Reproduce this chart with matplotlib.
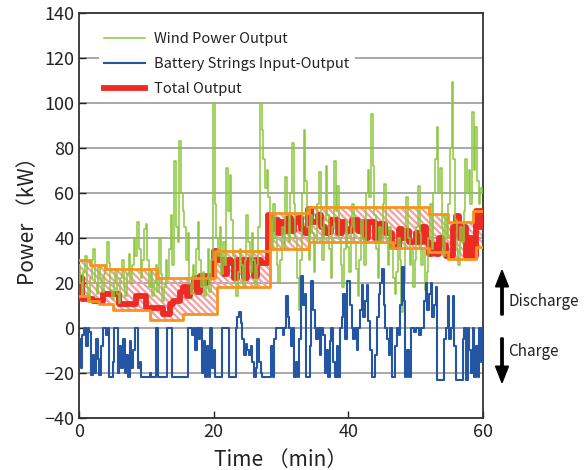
import numpy as np
import matplotlib
matplotlib.use('Agg')
import matplotlib.pyplot as plt

plt.rcParams['font.family'] = ['Noto Sans CJK JP', 'DejaVu Sans']
plt.rcParams['hatch.linewidth'] = 1.6

# wind power output, one value every 0.25 min (kW)
wind = [
    28, 20, 14, 25, 32, 18, 12, 22, 30, 35, 20, 15, 27, 22, 16, 24, 26, 38, 29, 17,
    13, 20, 26, 15, 11, 22, 30, 18, 14, 24, 33, 20, 28, 40, 32, 47, 35, 22, 30, 44,
    46, 30, 18, 25, 14, 20, 28, 16, 40, 24, 12, 18, 30, 22, 35, 50, 28, 74, 45, 38,
    83, 60, 52, 45, 30, 42, 20, 15, 28, 22, 35, 47, 30, 18, 25, 14, 22, 35, 16, 30,
    103, 55, 40, 32, 45, 24, 38, 28, 71, 52, 68, 48, 32, 20, 14, 25, 35, 28, 18, 30,
    50, 38, 25, 42, 30, 18, 28, 45, 103, 88, 75, 62, 70, 58, 48, 35, 55, 40, 28, 20,
    30, 45, 35, 67, 50, 38, 60, 82, 55, 40, 22, 8, 30, 60, 88, 65, 45, 30, 50, 42,
    25, 38, 55, 69, 45, 30, 48, 72, 50, 35, 22, 45, 74, 52, 63, 40, 28, 18, 35, 48,
    36, 25, 45, 55, 38, 26, 14, 30, 48, 40, 28, 60, 70, 58, 95, 72, 50, 35, 22, 45,
    38, 55, 64, 40, 28, 45, 35, 22, 15, 25, 40, 30, 7, 20, 45, 58, 40, 28, 35, 18,
    30, 45, 63, 42, 28, 35, 17, 25, 40, 55, 35, 60, 75, 89, 60, 71, 45, 32, 50, 40,
    55, 80, 109, 75, 48, 35, 28, 45, 38, 52, 75, 60, 70, 55, 96, 70, 89, 65, 55, 62,
    60,
]

# battery strings input-output, same sampling (kW, + discharge / - charge)
battery = [
    -5, -18, -3, 0, -8, 0, -2, -21, -12, -20, -5, -14, -21, -8, 0, 0, -3, 0, -22, -22,
    -15, 0, 0, -20, -8, -18, -5, -20, -12, -22, -6, -18, -10, 0, 0, -18, -15, -22, -22, -22,
    -22, -22, -20, -22, -22, -22, 0, -22, -22, -22, -22, -22, 0, 0, 0, -22, -22, -22, -22, -22,
    -22, -22, -22, -22, -22, 0, 0, -3, 0, -10, 0, -5, 0, -20, -6, -22, -8, -22, 0, -18,
    -10, -22, -22, -22, -22, 0, 0, 0, 0, -22, -22, -22, -22, 0, 5, 7, 2, -5, -12, -7,
    -10, -12, -8, -15, -22, -18, -5, -15, -20, -22, -22, -22, -22, -22, -8, -22, -5, 0, 0, 0,
    0, -3, 0, 14, 5, 0, -8, 0, -22, -15, -22, -5, 23, 10, 15, -22, -22, -8, 21, 8,
    0, -5, 0, -12, 0, -3, -20, -10, -22, -6, 0, -15, -22, -8, -22, 0, 5, 15, -5, 21,
    21, 10, 0, -5, 0, -10, 0, 8, 19, 5, 12, 19, 3, -10, -22, -22, -12, 5, 15, 20,
    26, 10, 0, -5, -12, 0, -22, -22, -8, 0, -3, 10, 27, 12, -22, -10, -22, 0, 0, -2,
    0, 0, -3, 0, 0, 12, 20, 8, 15, 20, 5, 10, 18, -23, -23, -23, -23, -5, 0, 14,
    -5, 0, 14, -8, -23, -23, -23, -23, -5, 0, -23, 0, -10, -20, 0, -22, -8, -22, 0, -15,
    0,
]

# total output, one value every 0.5 min (kW)
total = [
    22, 13, 13, 13, 12, 12, 12, 15, 15, 15, 15, 15, 10.5, 10.5, 10.5, 10.5, 10.5, 14, 14, 14,
    9, 9, 9, 9, 9, 6, 6, 10.5, 12, 12, 16, 18, 14, 18, 22, 16, 23, 20, 23, 23,
    34, 30, 30, 24, 30, 29, 22, 30, 30, 22, 30, 30, 23, 30, 29, 29,
    50, 44, 48, 42, 47, 43, 49, 43, 47, 49, 44, 42, 53, 47, 47, 50, 45, 42, 42.5, 48,
    48, 42, 47, 44, 43, 48, 48, 43, 47, 40, 47, 47, 40, 46, 46, 42, 42, 36, 36, 44,
    40, 43, 38, 38, 42, 38, 45, 38, 33, 37, 33, 40, 37, 32, 32, 45, 49.5, 40, 45, 32,
    40, 32, 52, 45, 52,
]

# allowed output band
band_t = [0, 1.3, 1.6, 3.0, 3.9, 5.0, 10.5, 11.6, 15.5, 20.2, 20.5, 28.4, 34.2, 46.7, 52.0, 54.8, 58.5, 59.0, 60]
band_upper = [30, 30, 28, 28, 26, 26, 26, 22, 22, 34, 34, 51, 53.5, 53.5, 50.5, 47, 52, 52, 52]
band_lower = [14, 12, 12, 10.5, 10.5, 8, 3.5, 3.5, 6, 6, 18, 35, 38, 35.5, 33.5, 30.5, 30.5, 36, 36]

t = np.arange(len(wind)) * 0.25
t_total = np.arange(len(total)) * 0.5

fig = plt.figure(figsize=(5.86, 4.7), dpi=100)
ax = fig.add_axes([0.135, 0.111, 0.689, 0.862])

ax.fill_between(band_t, band_lower, band_upper, step='post', facecolor='none',
                edgecolor='#f5a0a0', hatch='\\\\\\\\\\', linewidth=0, zorder=2)
ax.step(t_total, total, where='post', color='#ee2a24', lw=4.2, zorder=3,
        label='Total Output')
ax.plot(t, wind, color='#8dc63f', lw=1.1, zorder=4, drawstyle='steps-mid',
        label='Wind Power Output')
ax.step(band_t, band_upper, where='post', color='#f7941d', lw=2.0, zorder=5)
ax.step(band_t, band_lower, where='post', color='#f7941d', lw=2.0, zorder=5)
ax.step(t, battery, where='post', color='#2456a4', lw=1.5, zorder=6,
        label='Battery Strings Input-Output')

ax.set_xlim(0, 60)
ax.set_ylim(-40, 140)
ax.set_xticks([0, 20, 40, 60])
ax.set_yticks(range(-40, 141, 20))
ax.yaxis.grid(True, color='#999999', lw=1.2)
ax.set_axisbelow(True)
ax.tick_params(direction='in', length=5, labelsize=13, colors='#222222', width=1)
for s in ax.spines.values():
    s.set_color('#333333')
    s.set_linewidth(1.3)

ax.set_xlabel('Time （min）', fontsize=15, color='#222222', labelpad=6)
ax.set_ylabel('Power （kW）', fontsize=15, color='#222222', labelpad=4)

h, l = ax.get_legend_handles_labels()
order = [1, 2, 0]
leg = ax.legend([h[i] for i in order], [l[i] for i in order], loc='upper left',
                bbox_to_anchor=(0.03, 0.985), fontsize=10.5, frameon=True,
                facecolor='white', edgecolor='none', framealpha=1,
                handlelength=2.8, handletextpad=0.6, labelspacing=0.75, borderpad=0.4)
leg.set_zorder(10)
for txt in leg.get_texts():
    txt.set_color('#222222')

# charge / discharge arrows
fig.patches.append(matplotlib.patches.FancyArrow(
    502 / 586, 1 - 315 / 470, 0, 0.095, width=0.004, head_width=0.022,
    head_length=0.035, length_includes_head=True, color='black',
    transform=fig.transFigure))
fig.patches.append(matplotlib.patches.FancyArrow(
    502 / 586, 1 - 338 / 470, 0, -0.095, width=0.004, head_width=0.022,
    head_length=0.035, length_includes_head=True, color='black',
    transform=fig.transFigure))
fig.text(508 / 586, 1 - 302 / 470, 'Discharge', fontsize=11, va='center', color='#222222')
fig.text(508 / 586, 1 - 352 / 470, 'Charge', fontsize=11, va='center', color='#222222')

fig.savefig('out.png', dpi=100)
